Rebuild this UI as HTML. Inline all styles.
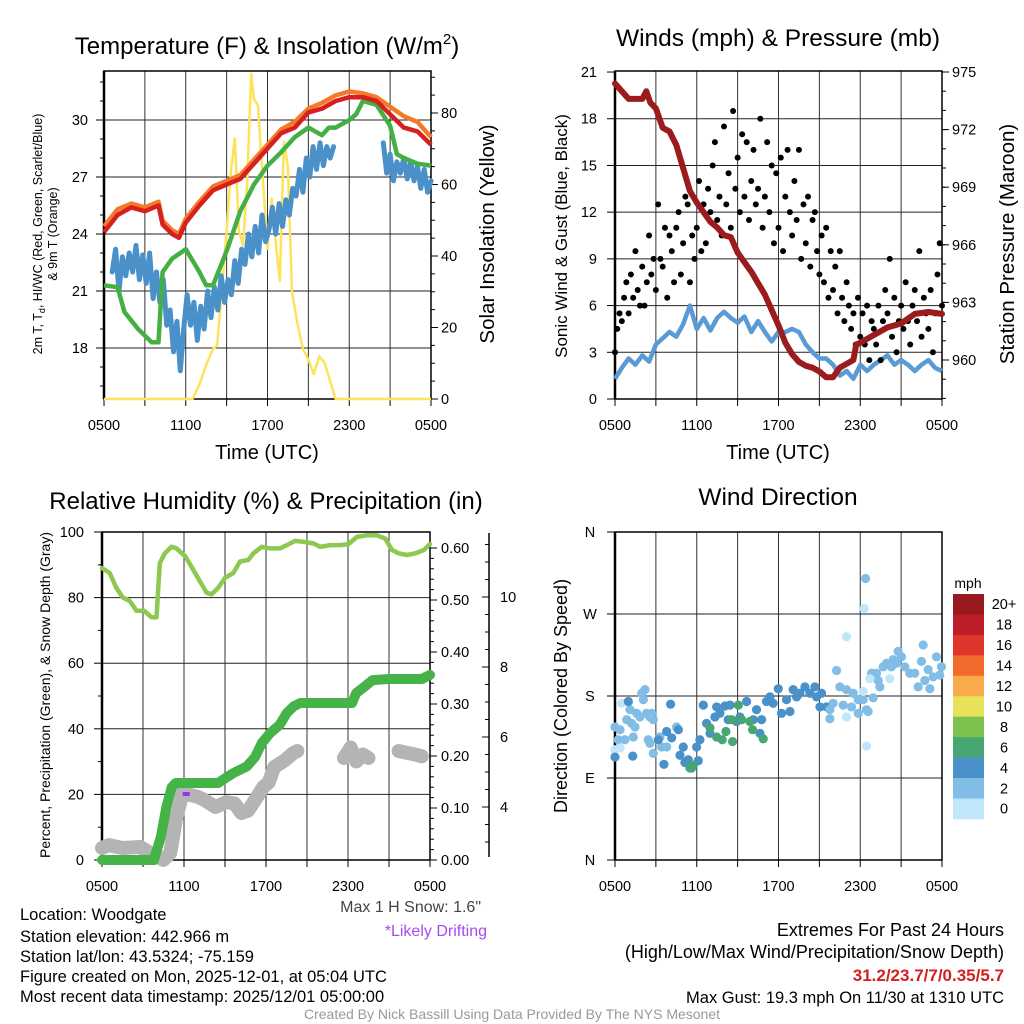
<!DOCTYPE html>
<html><head><meta charset="utf-8"><style>
html,body{margin:0;padding:0;background:#fff;}
svg{display:block;font-family:"Liberation Sans",sans-serif;}
</style></head><body>
<svg id="chart" width="1024" height="1024" viewBox="0 0 1024 1024" xmlns="http://www.w3.org/2000/svg">
<rect x="0" y="0" width="1024" height="1024" fill="#fff"/>
<g id="layer"></g>
<text x="267" y="54" font-size="24" text-anchor="middle">Temperature (F) &amp; Insolation (W/m<tspan font-size="15" dy="-10">2</tspan><tspan dy="10">)</tspan></text>
<text x="778" y="46" font-size="24.5" text-anchor="middle">Winds (mph) &amp; Pressure (mb)</text>
<text x="266" y="509" font-size="24" text-anchor="middle">Relative Humidity (%) &amp; Precipitation (in)</text>
<text x="778" y="505" font-size="24.5" text-anchor="middle">Wind Direction</text>
<text x="267" y="459" font-size="20" text-anchor="middle">Time (UTC)</text>
<text x="778" y="459" font-size="20" text-anchor="middle">Time (UTC)</text>
<text transform="translate(42,234) rotate(-90)" font-size="12.5" text-anchor="middle">2m T, T<tspan font-size="9" dy="3">d</tspan><tspan dy="-3">, HI/WC (Red, Green, Scarlet/Blue)</tspan></text>
<text transform="translate(57,234) rotate(-90)" font-size="12.5" text-anchor="middle">&amp; 9m T (Orange)</text>
<text transform="translate(494,234) rotate(-90)" font-size="20.5" text-anchor="middle">Solar Insolation (Yellow)</text>
<text transform="translate(567,236) rotate(-90)" font-size="17" text-anchor="middle">Sonic Wind &amp; Gust (Blue, Black)</text>
<text transform="translate(1014,244) rotate(-90)" font-size="20.5" text-anchor="middle">Station Pressure (Maroon)</text>
<text transform="translate(50,695) rotate(-90)" font-size="14" text-anchor="middle">Percent, Precipitation (Green), &amp; Snow Depth (Gray)</text>
<text transform="translate(567,696) rotate(-90)" font-size="18" text-anchor="middle">Direction (Colored By Speed)</text>
<text x="968" y="588" font-size="14" text-anchor="middle">mph</text>
<g font-size="16.5">
<text x="20" y="920">Location: Woodgate</text>
<text x="20" y="942">Station elevation: 442.966 m</text>
<text x="20" y="962">Station lat/lon: 43.5324; -75.159</text>
<text x="20" y="982">Figure created on Mon, 2025-12-01, at 05:04 UTC</text>
<text x="20" y="1002">Most recent data timestamp: 2025/12/01 05:00:00</text>
</g>
<text x="481" y="912" font-size="16" fill="#444" text-anchor="end">Max 1 H Snow: 1.6"</text>
<text x="487" y="936" font-size="16" fill="#a64cf0" text-anchor="end">*Likely Drifting</text>
<g font-size="18" text-anchor="end">
<text x="1004" y="936">Extremes For Past 24 Hours</text>
<text x="1004" y="958">(High/Low/Max Wind/Precipitation/Snow Depth)</text>
<text x="1004" y="981" fill="#d42020" font-weight="bold" font-size="17">31.2/23.7/7/0.35/5.7</text>
<text x="1004" y="1003" font-size="16.5">Max Gust: 19.3 mph On 11/30 at 1310 UTC</text>
</g>
<text x="512" y="1019" font-size="14" fill="#999" text-anchor="middle">Created By Nick Bassill Using Data Provided By The NYS Mesonet</text>
</svg>
<script>
// ---------- data ----------
const timeTickLabels = ["0500","1100","1700","2300","0500"];
const timeTickHours = [0,6,12,18,24];

const tempHours = [0,1,2,3,4,4.3,5,5.5,6,7,8,9,10,11,12,13,14,15,16,17,18,19,20,21,22,23,24];
const temp2m = [24.1,25.0,25.4,25.2,25.5,24.5,24.0,23.8,24.6,25.5,26.3,26.6,26.9,27.7,28.5,29.3,29.6,30.4,30.6,31.0,31.2,31.2,31.0,30.3,29.6,29.4,28.7];
const temp9m = [24.4,25.3,25.6,25.4,25.7,24.7,24.2,24.0,24.8,25.7,26.5,26.8,27.1,27.9,28.7,29.5,29.9,30.6,30.9,31.3,31.5,31.4,31.2,30.7,30.2,29.9,29.1];
const dewHours = [0,1,1.5,2.5,3.5,4,4.3,5,6,7,7.5,8,9,10,11,12,13,14,15,16,16.5,17,18,18.5,19,20,21,21.5,22,23,24];
const dewPoint = [21.3,21.2,19.9,19.0,18.3,18.3,22.0,22.7,23.2,22.0,21.3,21.3,23.1,25.2,26.6,27.6,28.3,29.1,29.6,29.2,29.6,29.6,30.0,30.3,31.0,30.8,29.7,28.2,28.0,27.7,27.6];
const chillHours = [0.6,0.85,1.1,1.35,1.6,1.85,2.1,2.35,2.6,2.85,3.1,3.35,3.6,3.85,4.1,4.35,4.6,4.85,5.1,5.35,5.6,5.85,6.1,6.35,6.6,6.85,7.1,7.35,7.6,7.85,8.1,8.35,8.6,8.85,9.1,9.35,9.6,9.85,10.1,10.35,10.6,10.85,11.1,11.35,11.6,11.85,12.1,12.35,12.6,12.85,13.1,13.35,13.6,13.85,14.1,14.35,14.6,14.85,15.1,15.35,15.6,15.85,16.1,16.35,16.6,16.85,null,19.7,null,20.5,20.75,21,21.25,21.5,21.75,22,22.25,22.5,22.75,23,23.25,23.5,23.75,24];
const windChill = [22.0,23.2,21.0,22.8,21.8,23.0,22.0,23.4,21.6,22.9,21.4,23.0,20.6,22.0,20.4,21.6,19.2,20.0,17.8,19.4,16.8,19.0,20.8,19.2,20.4,18.4,20.2,19.0,21.0,19.6,21.2,20.0,21.8,20.4,21.6,20.8,22.6,21.4,23.2,22.4,24.0,22.8,24.4,23.0,25.0,23.6,24.2,25.4,24.0,25.6,24.4,25.8,25.0,26.4,26.0,27.4,26.2,28.0,27.0,28.6,27.4,28.8,27.6,28.6,28.0,28.6,null,29.7,null,28.8,27.2,28.2,26.8,27.8,27.2,28.0,26.9,27.8,26.8,27.6,26.4,27.4,26.2,26.8];
const solarHours = [0,6.5,7,7.5,8,8.3,8.6,9,9.3,9.6,9.9,10.2,10.5,10.8,11,11.3,11.6,12,12.3,12.6,12.9,13.2,13.5,13.8,14.2,14.6,15,15.4,15.8,16.2,16.6,17,24];
const solarValues = [0,0,4,9.5,14,15,28,47,63,73,47,43,60,91,84,82,65,42,56,44,33,72,65,30,21,14,11,7,12,10,5,0,0];
const tempTicks = [18,21,24,27,30];
const solarTicks = [0,20,40,60,80];

const sonicWind = [1.3,2.0,2.6,2.2,2.8,2.4,3.5,3.9,4.3,4.0,4.8,6.0,4.5,5.2,4.4,5.2,5.6,5.2,4.9,5.3,4.3,5.0,4.3,3.7,4.3,4.3,4.5,4.3,3.5,3.0,2.6,2.6,2.2,1.5,1.8,1.3,2.2,1.8,2.2,2.5,2.8,2.2,2.5,2.2,1.8,2.2,2.5,2.0,1.8];
const gustValues = [3.0,4.5,5.5,5.0,6.5,7.5, 5.5,8.0,6.5,9.5,7.0,6.0, 8.5,6.0,7.5,10.5,8.0,9.0, 7.0,12.5,9.0,8.5,11.0,6.5, 10.5,9.5,7.5,11.0,12.0,8.0, 10.0,13.0,12.5,7.5,10.5,9.0, 11.0,14.0,9.5,12.5,10.0,13.5, 12.0,15.0,16.5,11.5,13.0,10.5, 17.5,12.5,14.5,11.0,18.5,13.5, 15.5,12.0,17.0,13.0,16.5,11.5, 14.0,16.0,12.5,13.5,18.0,11.0, 13.0,16.5,12.0,15.0,10.0,14.5, 11.0,15.5,9.5,13.0,16.0,12.0, 10.5,14.0,11.5,16.0,9.0,12.5, 10.0,13.0,8.5,11.5,12.0,9.5, 8.0,10.5,7.5,11.0,6.5,9.5, 7.0,8.5,5.5,9.5,6.5,5.0, 7.5,6.0,4.5,5.5,3.5,6.5, 4.0,5.5,3.5,6.0,2.5,5.0, 4.5,3.5,6.0,2.5,5.0,7.0, 5.5,9.0,4.0,6.5,3.0,5.0, 6.0,4.5,7.5,5.0,3.5,6.0, 7.0,5.0,9.5,4.0,6.5,5.5, 4.5,7.0,3.0,5.5,8.0,10.0, 6.0];
const presHours = [0,1,2,2.3,2.6,3,3.5,4,4.5,5,5.5,6,7,7.5,8,8.5,9,9.5,10,11,12,12.5,13,13.5,14,14.5,15,15.5,16,16.5,17,17.5,17.7,18,19,20,21,22,23,24];
const presValues = [974.4,973.6,973.6,974.0,973.4,973.1,972.1,971.9,971.2,970.0,968.8,968.2,967.2,966.9,966.5,966.4,965.6,965.1,964.6,963.4,961.8,960.9,960.3,959.9,959.7,959.6,959.4,959.1,959.1,959.6,959.8,960.0,960.8,960.9,961.3,961.7,961.9,962.4,962.5,962.4];
const windTicks = [0,3,6,9,12,15,18,21];
const presTicks = [960,963,966,969,972,975];

const rhHours = [0,0.56,1.05,1.54,2.03,2.52,3.08,3.62,3.99,4.23,4.6,5.09,5.45,6.11,6.67,7.16,7.65,8.02,8.51,9.0,9.61,10.1,10.71,11.08,11.69,12.3,13.03,13.52,14.13,14.74,15.48,15.97,16.7,17.43,18.04,18.66,19.39,20.12,20.73,21.22,21.71,22.32,22.93,23.55,24];
const rhValues = [89,87.5,83,80,79,76,76,74,74,90.5,93.5,95.5,95,92.5,88.5,85,81.5,81,83,86,87.5,91,91.5,93.5,95.5,95,95,96,97.3,97,96.5,95.5,96,96,96.3,98.5,99,99,98,94.5,93.5,93,93.5,94.5,96.3];
const precipHours = [0,3.8,4.3,4.7,5.1,5.4,8.5,9,9.6,10.6,11.2,11.7,12.3,13,13.5,14,14.5,18.3,18.6,19.2,19.8,21,23.4,24];
const precipValues = [0,0,0.044,0.10,0.14,0.148,0.148,0.157,0.167,0.18,0.198,0.225,0.244,0.26,0.282,0.295,0.302,0.302,0.321,0.333,0.346,0.348,0.348,0.356];
const snowHours = [0,0.5,1.5,2.8,3.5,4.5,5,5.4,5.9,7,7.5,8.3,9.1,9.7,10.2,10.7,11.2,11.8,12.2,12.6,13.4,14,14.3,null,17.7,18.2,18.6,19.1,19.5,null,21.7,22.3,22.9,23.4];
const snowDepth = [2.83,2.91,2.83,2.86,2.69,2.49,2.69,3.63,4.4,4.29,4.2,4.0,4.14,4.1,3.83,3.9,4.2,4.57,4.7,5.14,5.34,5.54,5.6,null,5.4,5.7,5.3,5.5,5.4,null,5.6,5.55,5.5,5.45];
const pctTicks = [0,20,40,60,80,100];
const precipTicks = [0,0.1,0.2,0.3,0.4,0.5,0.6];
const snowTicks = [4,6,8,10];

const dirHours = [0,0.37,0.24,0.73,0.86,1.1,1.22,1.47,1.59,1.83,1.96,2.2,2.08,2.32,2.57,2.69,2.81,2.44,2.57,2.81,3.3,3.42,3.79,4.52,1.34,
 0,0.49,0.37,
 0,0.98,1.3,3.18,3.59,3.79,4.08,4.16,4.65,4.77,5.01,5.13,5.38,5.62,5.99,6.11,6.23,6.48,6.72,6.97,7.33,7.46,7.7,8.07,8.44,8.31,8.92,9.17,9.66,10.15,10.39,10.64,10.76,11.12,11.37,11.61,11.98,12.22,12.59,12.84,13.08,13.33,13.57,13.94,14.3,14.67,14.79,15.04,15.16,15.53,
 5.5,5.75,6.97,7.46,7.87,8.14,8.63,8.56,9.05,9.29,9.9,10.1,10.88,
 15.77,16.01,16.26,16.5,16.75,16.99,17.36,17.48,17.85,18.83,18.46,18.58,19.19,19.32,19.44,19.68,19.93,20.29,20.42,20.66,20.78,21.03,21.27,21.64,22.0,22.25,22.49,22.62,22.74,22.98,23.11,23.35,23.59,23.84,23.96,18.39,18.95,18.22,15.77,17.85,
 16.99,18.29,16.99,18.22,18.46,18.7,20.17];
const dirDegrees = [146,143,132,132,154,165,150,146,161,157,183,187,176,161,157,161,154,132,128,117,135,124,124,146,135,
 121,172,123,
 113,174,114,132,105,141,171,134,143,115,124,107,110,101,124,109,132,170,150,139,157,168,161,169,170,154,152,157,174,154,165,139,154,174,179,172,188,161,176,163,187,179,183,190,183,190,179,168,183,168,
 101,104,145,135,132,141,130,154,170,154,152,143,133,
 165,172,208,190,170,187,168,183,161,205,165,163,205,197,190,212,216,212,220,216,229,223,212,205,205,190,218,236,197,209,188,201,223,203,212,309,178,176,155,176,
 245,276,157,185,125,199,199];
const dirSpeeds = [3,3,3,3,3,3,3,3,3,3,3,3,3,3,3,3,3,3,3,3,3,3,3,3,3,
 1,1,1,
 5,5,5,5,5,5,5,5,5,5,5,5,5,5,5,5,5,5,5,5,5,5,5,5,5,5,5,5,5,5,5,5,5,5,5,5,5,5,5,5,5,5,5,5,5,5,5,5,5,5,
 7,7,7,7,7,7,7,7,7,7,7,7,7,
 3,3,3,3,3,3,3,3,3,3,3,3,3,3,3,3,3,3,3,3,3,3,3,3,3,3,3,3,3,3,3,3,3,3,3,3,3,3,3,3,
 1,1,1,1,1,1,1];
const dirTickLabels = ["N","E","S","W","N"];
const dirTickDegrees = [0,90,180,270,360];
const colorbarLabels = ["20+","18","16","14","12","10","8","6","4","2","0"];
const colorbarColors = ["#98191e","#bd1d28","#e0352b","#f26a2c","#f9ab4b","#e8e25a","#7dc24f","#47a672","#4a90c9","#82bde6","#bfe6f9"];

// ---------- helpers ----------
const NS = "http://www.w3.org/2000/svg";
const layer = document.getElementById("layer");
function mk(tag, attrs, parent) {
  const e = document.createElementNS(NS, tag);
  for (const k in attrs) e.setAttribute(k, attrs[k]);
  (parent || layer).appendChild(e);
  return e;
}
function pathFrom(xs, ys, fx, fy) {
  let d = "", pen = false;
  for (let i = 0; i < xs.length; i++) {
    if (xs[i] === null || ys[i] === null) { pen = false; continue; }
    d += (pen ? "L" : "M") + fx(xs[i]).toFixed(1) + "," + fy(ys[i]).toFixed(1);
    pen = true;
  }
  return d;
}
function txt(x, y, s, size, anchor, parent) {
  const t = mk("text", {x: x, y: y, "font-size": size, "text-anchor": anchor}, parent);
  t.textContent = s;
  return t;
}
function panelFrame(x0, x1, y0, y1, name, vgridHours, hgridYs) {
  const g = mk("g", {});
  
  
  vgridHours.forEach(h => {
    const x = x0 + h * (x1 - x0) / 24;
    mk("line", {x1: x, x2: x, y1: y0, y2: y1, stroke: "#333", "stroke-width": 1}, g);
  });
  hgridYs.forEach(y => mk("line", {x1: x0, x2: x1, y1: y, y2: y, stroke: "#222", "stroke-width": 1}, g));
  mk("rect", {x: x0, y: y0, width: x1 - x0, height: y1 - y0, fill: "none", stroke: "#000", "stroke-width": 1.5}, g);
  mk("line", {x1: x0, x2: x0, y1: y0, y2: y1, stroke: "#000", "stroke-width": 2.5}, g);
  timeTickHours.forEach((h, i) => {
    const x = x0 + h * (x1 - x0) / 24;
    txt(x, y1 + 31, timeTickLabels[i], 14.5, "middle", g);
  });
  for (let h = 0; h <= 24; h += 3) {
    const x = x0 + h * (x1 - x0) / 24;
    mk("line", {x1: x, x2: x, y1: y1, y2: y1 + 7, stroke: "#000", "stroke-width": 1}, g);
  }
  return g;
}

// ---------- Panel 1: temperature ----------
const p1 = {x0: 104, x1: 431, y0: 71, y1: 399};
const sx1 = h => p1.x0 + h * (p1.x1 - p1.x0) / 24;
const sy1 = v => 348 - (v - 18) * 19;
const si1 = v => 399 - v * 3.575;
const g1 = panelFrame(p1.x0, p1.x1, p1.y0, p1.y1, "temperature-panel", [3,6,9,12,15,18,21], tempTicks.map(sy1));
tempTicks.forEach(v => {
  const t = txt(p1.x0 - 16, sy1(v) + 5, String(v), 14.5, "end", g1);
  
  mk("line", {x1: p1.x0 - 8, x2: p1.x0, y1: sy1(v), y2: sy1(v), stroke: "#000"}, g1);
});
for (let v = 16; v <= 32; v++) mk("line", {x1: p1.x0 - 4, x2: p1.x0, y1: sy1(v), y2: sy1(v), stroke: "#000"}, g1);
solarTicks.forEach(v => {
  const t = txt(p1.x1 + 10, si1(v) + 5, String(v), 14.5, "start", g1);
  
  mk("line", {x1: p1.x1, x2: p1.x1 + 7, y1: si1(v), y2: si1(v), stroke: "#000"}, g1);
});
for (let v = 5; v <= 90; v += 5) mk("line", {x1: p1.x1, x2: p1.x1 + 4, y1: si1(v), y2: si1(v), stroke: "#000"}, g1);
const sol = mk("path", {d: pathFrom(solarHours, solarValues, sx1, si1), fill: "none", stroke: "#fde35a", "stroke-width": 2.5, "stroke-linejoin": "round"});


const wc = mk("path", {d: pathFrom(chillHours, windChill, sx1, sy1), fill: "none", stroke: "#4a90c9", "stroke-width": 5, "stroke-linejoin": "round", "stroke-linecap": "round"});


const dp = mk("path", {d: pathFrom(dewHours, dewPoint, sx1, sy1), fill: "none", stroke: "#44b044", "stroke-width": 4.5, "stroke-linejoin": "round"});


const t9 = mk("path", {d: pathFrom(tempHours, temp9m, sx1, sy1), fill: "none", stroke: "#f47a2a", "stroke-width": 4.5, "stroke-linejoin": "round"});


const t2 = mk("path", {d: pathFrom(tempHours, temp2m, sx1, sy1), fill: "none", stroke: "#d62020", "stroke-width": 4.5, "stroke-linejoin": "round"});



// ---------- Panel 2: winds ----------
const p2 = {x0: 615, x1: 942, y0: 71, y1: 399};
const sx2 = h => p2.x0 + h * (p2.x1 - p2.x0) / 24;
const sy2 = v => 399 - v * 15.57;
const sp2 = p => 360 - (p - 960) * 19.2;
const g2 = panelFrame(p2.x0, p2.x1, p2.y0, p2.y1, "winds-panel", [3,6,9,12,15,18,21], windTicks.slice(1,7).map(sy2));
windTicks.forEach(v => {
  const t = txt(p2.x0 - 18, sy2(v) + 5, String(v), 14.5, "end", g2);
  
  mk("line", {x1: p2.x0 - 8, x2: p2.x0, y1: sy2(v), y2: sy2(v), stroke: "#000"}, g2);
});
presTicks.forEach(v => {
  const t = txt(p2.x1 + 10, sp2(v) + 5, String(v), 14.5, "start", g2);
  
  mk("line", {x1: p2.x1, x2: p2.x1 + 7, y1: sp2(v), y2: sp2(v), stroke: "#000"}, g2);
});
for (let v = 958; v <= 975; v++) mk("line", {x1: p2.x1, x2: p2.x1 + 4, y1: sp2(v), y2: sp2(v), stroke: "#000"}, g2);
const sonicHours = sonicWind.map((v, i) => i * 0.5);
const sw = mk("path", {d: pathFrom(sonicHours, sonicWind, sx2, sy2), fill: "none", stroke: "#5a9bd5", "stroke-width": 4.5, "stroke-linejoin": "round"});


const gustG = mk("g", {});


gustValues.forEach((v, i) => {
  const c = mk("circle", {cx: sx2(i / 6), cy: sy2(v), r: 3, fill: "#000"}, gustG);
  
  
});
const pr = mk("path", {d: pathFrom(presHours, presValues, sx2, sp2), fill: "none", stroke: "#9b1c1c", "stroke-width": 6, "stroke-linejoin": "round", "stroke-linecap": "round"});



// ---------- Panel 3: humidity ----------
const p3 = {x0: 102, x1: 430, y0: 532, y1: 860};
const sx3 = h => p3.x0 + h * (p3.x1 - p3.x0) / 24;
const sy3 = v => 860 - v * 3.28;
const spc = v => 860 - v * 520;
const ssn = v => 807 - (v - 4) * 35;
const g3 = panelFrame(p3.x0, p3.x1, p3.y0, p3.y1, "humidity-panel", [3,6,9,12,15,18,21], pctTicks.slice(1,5).map(sy3));
pctTicks.forEach(v => {
  const t = txt(p3.x0 - 18, sy3(v) + 5, String(v), 14.5, "end", g3);
  
  mk("line", {x1: p3.x0 - 8, x2: p3.x0, y1: sy3(v), y2: sy3(v), stroke: "#000"}, g3);
});
for (let v = 10; v < 100; v += 20) mk("line", {x1: p3.x0 - 4, x2: p3.x0, y1: sy3(v), y2: sy3(v), stroke: "#000"}, g3);
precipTicks.forEach(v => {
  const t = txt(p3.x1 + 11, spc(v) + 5, v.toFixed(2), 14.5, "start", g3);
  
  mk("line", {x1: p3.x1, x2: p3.x1 + 7, y1: spc(v), y2: spc(v), stroke: "#000"}, g3);
});
for (let v = 0; v <= 0.62; v += 0.02) mk("line", {x1: p3.x1, x2: p3.x1 + 4, y1: spc(v), y2: spc(v), stroke: "#000"}, g3);
mk("line", {x1: 489, x2: 489, y1: 533, y2: 857, stroke: "#000", "stroke-width": 1.5}, g3);
snowTicks.forEach(v => {
  const t = txt(500, ssn(v) + 5, String(v), 14.5, "start", g3);
  
  mk("line", {x1: 482, x2: 489, y1: ssn(v), y2: ssn(v), stroke: "#000"}, g3);
});
for (let v = 3; v <= 11.5; v += 0.5) mk("line", {x1: 485, x2: 489, y1: ssn(v), y2: ssn(v), stroke: "#000"}, g3);
const sn = mk("path", {d: pathFrom(snowHours, snowDepth, sx3, ssn), fill: "none", stroke: "#b4b4b4", "stroke-width": 14, "stroke-linejoin": "round", "stroke-linecap": "round"});


const pc = mk("path", {d: pathFrom(precipHours, precipValues, sx3, spc), fill: "none", stroke: "#45b347", "stroke-width": 10, "stroke-linejoin": "round", "stroke-linecap": "round"});


const rh = mk("path", {d: pathFrom(rhHours, rhValues, sx3, sy3), fill: "none", stroke: "#8dc850", "stroke-width": 4.5, "stroke-linejoin": "round", "stroke-linecap": "round"});


const dm = mk("rect", {x: sx3(6.2) - 4, y: 792, width: 7, height: 4, fill: "#a030f0"});



// ---------- Panel 4: wind direction ----------
const p4 = {x0: 615, x1: 942, y0: 532, y1: 860};
const sx4 = h => p4.x0 + h * (p4.x1 - p4.x0) / 24;
const sd4 = d => 860 - d * (328 / 360);
const g4 = panelFrame(p4.x0, p4.x1, p4.y0, p4.y1, "wind-direction-panel", [3,6,9,12,15,18,21], [90,180,270].map(sd4));
dirTickDegrees.forEach((d, i) => {
  const t = txt(590, sd4(d) + 5, dirTickLabels[i], 14.5, "middle", g4);
  
  mk("line", {x1: p4.x0 - 8, x2: p4.x0, y1: sd4(d), y2: sd4(d), stroke: "#000"}, g4);
});
function speedColor(s) {
  const idx = Math.max(0, Math.min(10, 10 - Math.floor(s / 2)));
  return colorbarColors[idx];
}
const dirG = mk("g", {});


dirHours.forEach((h, i) => {
  const c = mk("circle", {cx: sx4(h), cy: sd4(dirDegrees[i]), r: 4.6, fill: speedColor(dirSpeeds[i])}, dirG);
  
  
});
const cb = mk("g", {});


const boxH = 20.45;
colorbarColors.forEach((c, i) => {
  const r = mk("rect", {x: 953, y: 594 + i * boxH, width: 31, height: boxH + 0.3, fill: c}, cb);
  
  const t = txt(1004, 594 + (i + 0.5) * boxH + 5, colorbarLabels[i], 14.5, "middle", cb);
  
});
</script>
</body></html>
